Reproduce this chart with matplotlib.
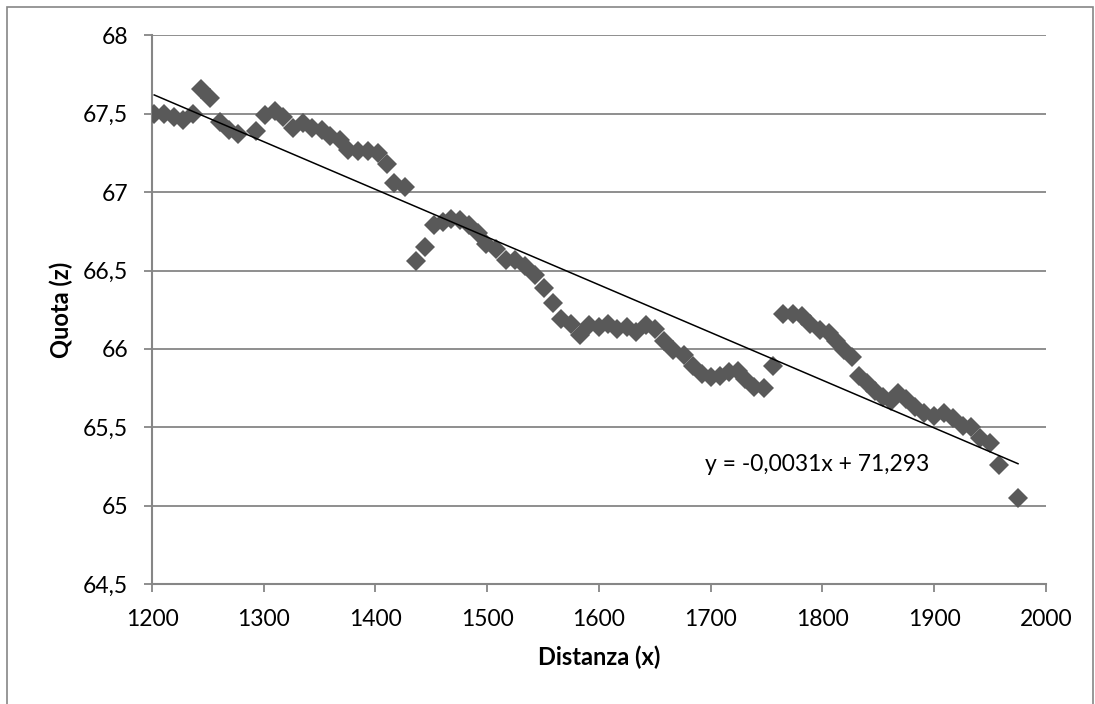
import matplotlib
matplotlib.use('Agg')
import matplotlib.pyplot as plt
import numpy as np
from matplotlib.patches import Rectangle
from matplotlib.ticker import FuncFormatter

plt.rcParams['font.family'] = ['Lato', 'DejaVu Sans']

# distanza (x) e quota (z)
distanza = [1202, 1211, 1220, 1228, 1237, 1244, 1252, 1261, 1269, 1277,
            1293, 1301, 1310, 1317, 1326, 1335, 1343, 1352, 1359, 1368,
            1375, 1384, 1393, 1402, 1410, 1417, 1426, 1436, 1444, 1452,
            1460, 1468, 1476, 1484, 1492, 1499, 1508, 1517, 1525, 1534,
            1543, 1551, 1559, 1566, 1575, 1583, 1591, 1600, 1608, 1616,
            1625, 1633, 1642, 1650, 1658, 1666, 1676, 1684, 1692, 1700,
            1708, 1716, 1724, 1731, 1739, 1748, 1756, 1765, 1774, 1782,
            1789, 1798, 1806, 1812, 1819, 1826, 1833, 1840, 1847, 1854,
            1861, 1868, 1875, 1883, 1891, 1900, 1909, 1917, 1926, 1933,
            1941, 1950, 1958, 1975]
quota = [67.50, 67.50, 67.48, 67.46, 67.50, 67.66, 67.60, 67.45, 67.40, 67.37,
         67.39, 67.49, 67.52, 67.48, 67.41, 67.44, 67.41, 67.40, 67.36, 67.33,
         67.27, 67.26, 67.26, 67.25, 67.18, 67.06, 67.03, 66.56, 66.65, 66.79,
         66.81, 66.83, 66.82, 66.79, 66.74, 66.67, 66.64, 66.57, 66.57, 66.53,
         66.47, 66.39, 66.29, 66.19, 66.16, 66.09, 66.15, 66.14, 66.16, 66.13,
         66.14, 66.11, 66.15, 66.13, 66.05, 65.99, 65.96, 65.89, 65.84, 65.82,
         65.83, 65.85, 65.86, 65.81, 65.76, 65.75, 65.89, 66.22, 66.22, 66.21,
         66.16, 66.12, 66.10, 66.05, 65.99, 65.95, 65.83, 65.78, 65.73, 65.69,
         65.67, 65.72, 65.68, 65.63, 65.59, 65.57, 65.59, 65.56, 65.51, 65.50,
         65.43, 65.40, 65.26, 65.05]
equazione = 'y = -0,0031x + 71,293'

x = np.array(distanza)
z = np.array(quota)

fig = plt.figure(figsize=(10.95, 7.04), dpi=100)
ax = fig.add_axes([0.1388, 0.1705, 0.8164, 0.7791])

grid_col = '#868686'
ax.plot(x, z, 'D', color='#595959', ms=10.5, mew=0, zorder=3)

# linea di tendenza
m, q = np.polyfit(x, z, 1)
xx = np.array([x.min(), x.max()])
ax.plot(xx, m * xx + q, color='black', lw=1.1, zorder=4)
ax.text(1695, 65.265, equazione, fontsize=16.5, va='center', ha='left', zorder=5)

ax.set_xlim(1200, 2000)
ax.set_ylim(64.5, 68)
ax.set_xticks(np.arange(1200, 2001, 100))
ax.set_yticks(np.arange(64.5, 68.01, 0.5))
ax.yaxis.set_major_formatter(FuncFormatter(lambda v, p: ('%g' % v).replace('.', ',')))
ax.grid(axis='y', color=grid_col, lw=1.3)
ax.set_axisbelow(True)

for s in ['top', 'right']:
    ax.spines[s].set_visible(False)
for s in ['left', 'bottom']:
    ax.spines[s].set_color(grid_col)
    ax.spines[s].set_linewidth(1.5)
ax.tick_params(direction='out', length=6, width=1.3, color=grid_col,
               labelsize=16.5, labelcolor='black')
ax.tick_params(axis='y', pad=11)
ax.tick_params(axis='x', pad=12)

ax.set_xlabel('Distanza (x)', fontsize=17, fontweight='bold', labelpad=11)
ax.set_ylabel('Quota (z)', fontsize=17, fontweight='bold', labelpad=7)

# bordo esterno dell'area grafico
fig.patches.append(Rectangle((6.5 / 1095, -0.05), (1093 - 6.5) / 1095, 1.05 - 6.5 / 704,
                             transform=fig.transFigure, fill=False,
                             edgecolor=grid_col, lw=1.2))

fig.savefig('out.png', dpi=100)
